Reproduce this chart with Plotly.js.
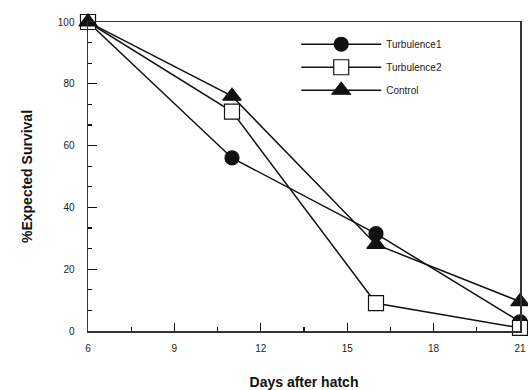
<!DOCTYPE html>
<html>
<head>
<meta charset="utf-8">
<script src="https://cdn.plot.ly/plotly-3.0.1.min.js"></script>
<style>html,body{margin:0;padding:0;background:#fff;}#chart{width:528px;height:390px;}</style>
</head>
<body>
<div id="chart"></div>
<script>
var days = [6, 11, 16, 21];
var turbulence1 = [100, 56, 31.5, 3];
var turbulence2 = [100, 71, 9, 1];
var control = [100, 76, 28, 9.5];
var seriesNames = ['Turbulence1', 'Turbulence2', 'Control'];
var xTicks = [6, 9, 12, 15, 18, 21];
var yTicks = [0, 20, 40, 60, 80, 100];

function trace(y, name, symbol, size) {
  return {
    x: days, y: y, name: name, legendgroup: name, type: 'scatter', mode: 'lines+markers',
    line: {color: '#111', width: 1.5},
    marker: {symbol: symbol, size: size, color: symbol === 'square' ? '#fff' : '#111',
             line: {color: '#111', width: 1.2}},
    cliponaxis: false
  };
}
var data = [
  trace(turbulence1, seriesNames[0], 'circle', 14),
  trace(turbulence2, seriesNames[1], 'square', 15),
  trace(control, seriesNames[2], 'triangle-up', 16)
];
var layout = {
  width: 528, height: 390,
  margin: {l: 88, r: 8, t: 22, b: 59},
  paper_bgcolor: '#fff', plot_bgcolor: '#fff',
  font: {family: 'Liberation Sans, Arial, sans-serif', color: '#222', size: 10},
  showlegend: true,
  legend: {x: 0.482, y: 0.975, xanchor: 'left', yanchor: 'top', bgcolor: 'rgba(0,0,0,0)',
           itemwidth: 80, traceorder: 'grouped', tracegroupgap: 4, font: {size: 10, color: '#222'}},
  xaxis: {
    range: [6, 21], tickvals: xTicks, ticktext: xTicks.map(String),
    ticks: 'inside', ticklen: 8, tickwidth: 1.2, tickcolor: '#111',
    minor: {dtick: 1.5, tick0: 6, ticks: 'inside', ticklen: 4, tickcolor: '#111'},
    showline: true, linecolor: '#333', linewidth: 1.5, mirror: true,
    showgrid: false, zeroline: false, tickfont: {size: 10}, ticklabelstandoff: 7,
    title: {text: 'Days after hatch', font: {size: 14, family: 'Liberation Sans, Arial, sans-serif', color: '#111', weight: 'bold'}, standoff: 26}
  },
  yaxis: {
    range: [0, 100], tickvals: yTicks, ticktext: yTicks.map(String),
    ticks: 'inside', ticklen: 9, tickwidth: 1.2, tickcolor: '#111',
    minor: {dtick: 20/3, tick0: 0, ticks: 'inside', ticklen: 4, tickcolor: '#111'},
    showline: true, linecolor: '#333', linewidth: 1.5, mirror: true,
    showgrid: false, zeroline: false, tickfont: {size: 10}, ticklabelstandoff: 10,
    title: {text: '%Expected Survival', font: {size: 14, family: 'Liberation Sans, Arial, sans-serif', color: '#111', weight: 'bold'}, standoff: 22}
  }
};
Plotly.newPlot('chart', data, layout, {staticPlot: true, displayModeBar: false});
</script>
</body>
</html>
